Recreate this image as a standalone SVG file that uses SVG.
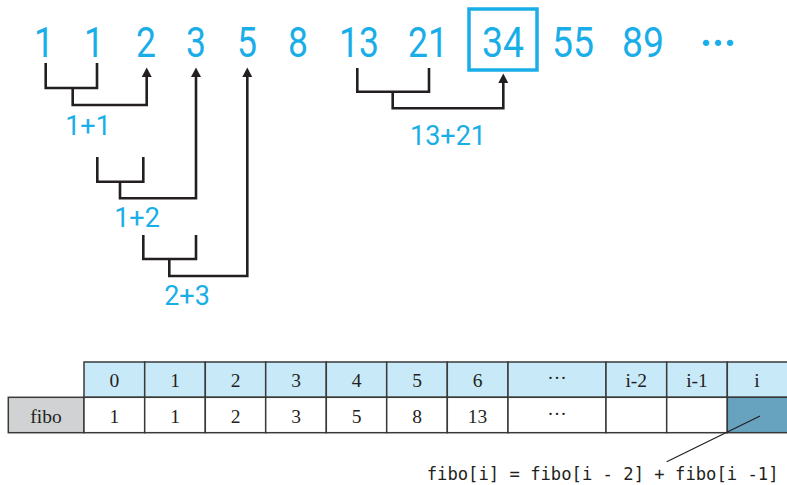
<svg xmlns="http://www.w3.org/2000/svg" width="787" height="485" viewBox="0 0 787 485">
  <style>
    .seq { font-family: Roboto, "DejaVu Sans", sans-serif; font-size: 43px; fill: #1aaee8; text-anchor: middle; }
    .sum { font-family: Roboto, "DejaVu Sans", sans-serif; font-size: 27px; fill: #1aaee8; text-anchor: middle; }
    .wire { fill: none; stroke: #231f20; stroke-width: 2.6; }
    .cell { stroke: #3a3a3a; stroke-width: 1.5; }
    .head { fill: #c8e9f8; }
    .val { fill: #ffffff; }
    .tx { font-family: "Liberation Serif", "Times New Roman", serif; font-size: 19.5px; fill: #231f20; text-anchor: middle; }
    .code { font-family: "DejaVu Sans Mono", "Liberation Mono", monospace; font-size: 17.2px; fill: #231f20; }
  </style>
  <defs>
    <marker id="tip" markerWidth="10" markerHeight="10" refX="0" refY="5" orient="auto" markerUnits="userSpaceOnUse" viewBox="0 0 10 10">
      <path d="M0,0 L9.5,5 L0,10 Z" fill="#231f20"/>
    </marker>
  </defs>

  <!-- Fibonacci sequence -->
  <g id="sequence">
    <text class="seq" x="44" y="57" textLength="20" lengthAdjust="spacingAndGlyphs">1</text>
    <text class="seq" x="94" y="57" textLength="20" lengthAdjust="spacingAndGlyphs">1</text>
    <text class="seq" x="146" y="57" textLength="20" lengthAdjust="spacingAndGlyphs">2</text>
    <text class="seq" x="196" y="57" textLength="20" lengthAdjust="spacingAndGlyphs">3</text>
    <text class="seq" x="247" y="57" textLength="20" lengthAdjust="spacingAndGlyphs">5</text>
    <text class="seq" x="298" y="57" textLength="20" lengthAdjust="spacingAndGlyphs">8</text>
    <text class="seq" x="359" y="57" textLength="40" lengthAdjust="spacingAndGlyphs">13</text>
    <text class="seq" x="428" y="57" textLength="40" lengthAdjust="spacingAndGlyphs">21</text>
    <text class="seq" x="503" y="57" textLength="42" lengthAdjust="spacingAndGlyphs">34</text>
    <text class="seq" x="573" y="57" textLength="42" lengthAdjust="spacingAndGlyphs">55</text>
    <text class="seq" x="643" y="57" textLength="42" lengthAdjust="spacingAndGlyphs">89</text>
    <text class="seq" x="718" y="57" font-weight="bold" textLength="36" lengthAdjust="spacingAndGlyphs">···</text>
  </g>

  <g id="highlight">
    <rect x="469" y="9" width="68" height="61" fill="none" stroke="#1aaee8" stroke-width="3.5"/>
  </g>

  <!-- sum brackets and arrows -->
  <g id="connectors">
    <path class="wire" d="M45.7,63 V88 H97 V63 M72.7,88 V105 H146.7 V77" marker-end="url(#tip)"/>
    <path class="wire" d="M97.3,157 V181.7 H143.3 V157 M120,181.7 V198.3 H196 V77" marker-end="url(#tip)"/>
    <path class="wire" d="M143.3,235 V259 H196 V235 M169.3,259 V276 H247.3 V77" marker-end="url(#tip)"/>
    <path class="wire" d="M357.3,68 V91.7 H429 V68 M392.7,91.7 V108.3 H503.3 V83" marker-end="url(#tip)"/>
  </g>

  <g id="sums">
    <text class="sum" x="88" y="135">1+1</text>
    <text class="sum" x="137" y="227">1+2</text>
    <text class="sum" x="187" y="305">2+3</text>
    <text class="sum" x="448" y="145">13+21</text>
  </g>

  <!-- fibo array -->
  <g id="array">
    <rect class="cell" x="8.3" y="397.3" width="75.7" height="35.4" fill="#d1d2d4"/>
    <text class="tx" x="46" y="422.5">fibo</text>

    <rect class="cell head" x="84" y="362" width="60.7" height="35.3"/>
    <rect class="cell head" x="144.7" y="362" width="60.6" height="35.3"/>
    <rect class="cell head" x="205.3" y="362" width="60.4" height="35.3"/>
    <rect class="cell head" x="265.7" y="362" width="60.6" height="35.3"/>
    <rect class="cell head" x="326.3" y="362" width="60.4" height="35.3"/>
    <rect class="cell head" x="386.7" y="362" width="60.6" height="35.3"/>
    <rect class="cell head" x="447.3" y="362" width="60.7" height="35.3"/>
    <rect class="cell head" x="508" y="362" width="98" height="35.3"/>
    <rect class="cell head" x="606" y="362" width="60.7" height="35.3"/>
    <rect class="cell head" x="666.7" y="362" width="60.6" height="35.3"/>
    <rect class="cell head" x="727.3" y="362" width="64" height="35.3"/>

    <rect class="cell val" x="84" y="397.3" width="60.7" height="35.4"/>
    <rect class="cell val" x="144.7" y="397.3" width="60.6" height="35.4"/>
    <rect class="cell val" x="205.3" y="397.3" width="60.4" height="35.4"/>
    <rect class="cell val" x="265.7" y="397.3" width="60.6" height="35.4"/>
    <rect class="cell val" x="326.3" y="397.3" width="60.4" height="35.4"/>
    <rect class="cell val" x="386.7" y="397.3" width="60.6" height="35.4"/>
    <rect class="cell val" x="447.3" y="397.3" width="60.7" height="35.4"/>
    <rect class="cell val" x="508" y="397.3" width="98" height="35.4"/>
    <rect class="cell val" x="606" y="397.3" width="60.7" height="35.4"/>
    <rect class="cell val" x="666.7" y="397.3" width="60.6" height="35.4"/>
    <rect class="cell" x="727.3" y="397.3" width="64" height="35.4" fill="#67a3bf"/>

    <text class="tx" x="114.3" y="386.5">0</text>
    <text class="tx" x="175" y="386.5">1</text>
    <text class="tx" x="235.5" y="386.5">2</text>
    <text class="tx" x="296" y="386.5">3</text>
    <text class="tx" x="356.5" y="386.5">4</text>
    <text class="tx" x="417" y="386.5">5</text>
    <text class="tx" x="477.6" y="386.5">6</text>
    <text class="tx" x="557" y="384">···</text>
    <text class="tx" x="636.3" y="386.5">i-2</text>
    <text class="tx" x="697" y="386.5">i-1</text>
    <text class="tx" x="757" y="386.5">i</text>

    <text class="tx" x="114.3" y="422.5">1</text>
    <text class="tx" x="175" y="422.5">1</text>
    <text class="tx" x="235.5" y="422.5">2</text>
    <text class="tx" x="296" y="422.5">3</text>
    <text class="tx" x="356.5" y="422.5">5</text>
    <text class="tx" x="417" y="422.5">8</text>
    <text class="tx" x="477.6" y="422.5">13</text>
    <text class="tx" x="557" y="420">···</text>
  </g>

  <!-- callout from the fibo[i] cell -->
  <g id="formula">
    <line x1="760" y1="416" x2="666.7" y2="461.7" stroke="#231f20" stroke-width="1.2"/>
    <text class="code" x="426.7" y="480">fibo[i] = fibo[i - 2] + fibo[i -1]</text>
  </g>
</svg>
